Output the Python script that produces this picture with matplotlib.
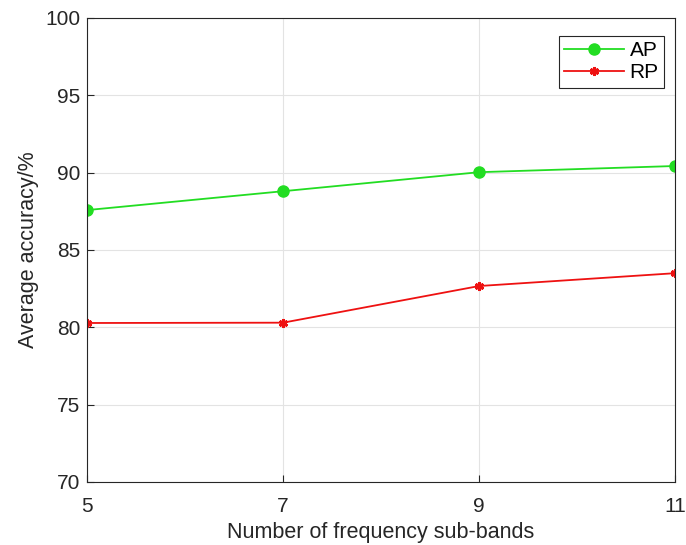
import matplotlib
matplotlib.use("Agg")
import matplotlib.pyplot as plt

sub_bands = [5, 7, 9, 11]
ap_acc = [87.58, 88.8, 90.03, 90.43]
rp_acc = [80.28, 80.3, 82.67, 83.5]

plt.rcParams['font.family'] = ['Liberation Sans', 'DejaVu Sans']

fig = plt.figure(figsize=(6.86, 5.45), dpi=100)
ax = fig.add_axes([0.127, 0.1156, 0.857, 0.8514])

ax.plot(sub_bands, ap_acc, color='#22dd22', marker='o', markersize=8, linewidth=1.3, label='AP')
ax.plot(sub_bands, rp_acc, color='#ee1111', marker=(6, 2, 0), markersize=6.5, markeredgewidth=2,
        linewidth=1.3, label='RP')

ax.set_xlim(5, 11)
ax.set_ylim(70, 100)
ax.set_xticks(sub_bands)
ax.set_yticks(range(70, 101, 5))
ax.grid(True, color='#e3e3e3', linewidth=0.8)
ax.set_axisbelow(True)
ax.tick_params(direction='in', labelsize=15, colors='#262626', length=5)
ax.tick_params(axis='x', pad=11)
ax.tick_params(axis='y', pad=5)
for s in ax.spines.values():
    s.set_color('#262626')
    s.set_linewidth(0.8)

ax.set_xlabel('Number of frequency sub-bands', fontsize=15.5, color='#262626', labelpad=4)
ax.set_ylabel('Average accuracy/%', fontsize=15.5, color='#262626', labelpad=4)

leg = ax.legend(loc='upper right', bbox_to_anchor=(0.981, 0.961), borderaxespad=0,
                fontsize=15, fancybox=False, framealpha=1, edgecolor='#262626',
                handlelength=2.9, labelspacing=0.15, handletextpad=0.25, borderpad=0.25)
leg.get_frame().set_linewidth(0.8)

fig.savefig('out.png', dpi=100)
